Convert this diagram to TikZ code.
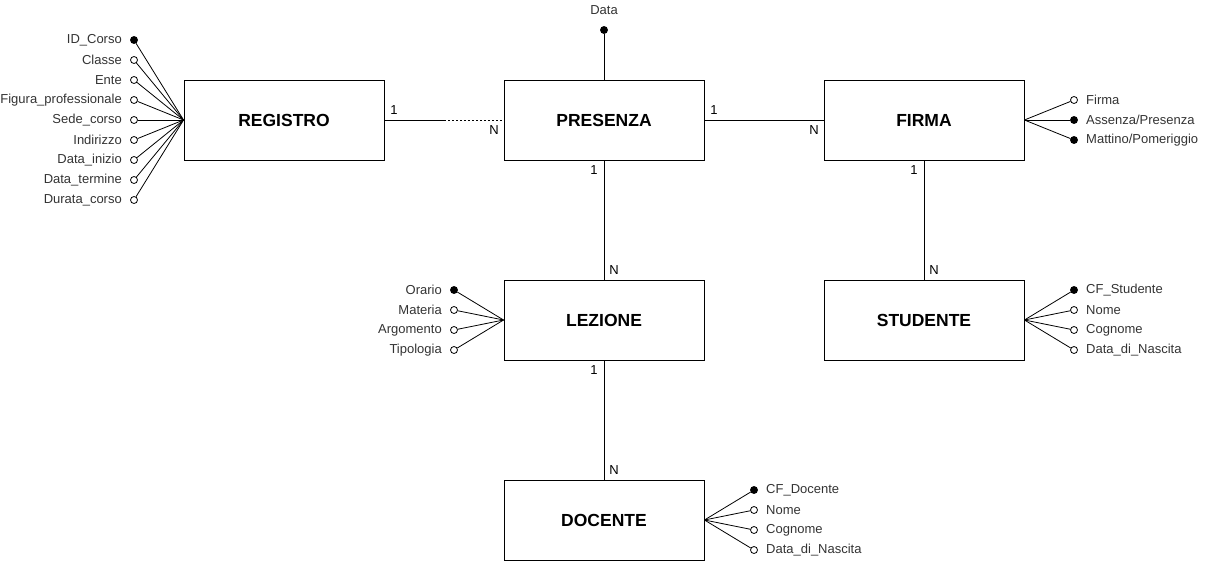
\documentclass[tikz,border=0pt]{standalone}
\usepackage{fontspec}
\setmainfont{Liberation Sans}
\begin{document}
\begin{tikzpicture}[x=1pt,y=-1pt,
  entity/.style={draw,line width=0.9pt,minimum width=200pt,minimum height=80pt,inner sep=0pt,font=\fontsize{17.5}{20}\selectfont\bfseries},
  attrk/.style={circle,draw,line width=0.8pt,fill=black,minimum size=7pt,inner sep=0pt},
  attro/.style={circle,draw,line width=0.8pt,fill=white,minimum size=7pt,inner sep=0pt},
  lbl/.style={font=\fontsize{13}{15}\selectfont,text=black!80,inner sep=0pt},
  card/.style={font=\fontsize{13}{15}\selectfont,inner sep=0pt},
  conn/.style={line width=0.8pt}]
\useasboundingbox (0,0) rectangle (1205,562);
% entities
\node[entity] (reg) at (284,120) {REGISTRO};
\node[entity] (pre) at (604,120) {PRESENZA};
\node[entity] (fir) at (924,120) {FIRMA};
\node[entity] (lez) at (604,320) {LEZIONE};
\node[entity] (stu) at (924,320) {STUDENTE};
\node[entity] (doc) at (604,520) {DOCENTE};
% relationships
\coordinate (mid) at (444,120);
\draw[conn] (reg.east) -- (mid);
\draw[conn,dash pattern=on 2pt off 2pt] (mid) -- (pre.west);
\draw[conn] (pre.east) -- (fir.west);
\draw[conn] (pre.south) -- (lez.north);
\draw[conn] (fir.south) -- (stu.north);
\draw[conn] (lez.south) -- (doc.north);
\node[card] (c1) at (394,110) {1};
\node[card] (c2) at (494,130) {N};
\node[card] (c3) at (714,110) {1};
\node[card] (c4) at (814,130) {N};
\node[card] (c5) at (594,170) {1};
\node[card] (c6) at (614,270) {N};
\node[card] (c7) at (914,170) {1};
\node[card] (c8) at (934,270) {N};
\node[card] (c9) at (594,370) {1};
\node[card] (c10) at (614,470) {N};
% Data
\node[attrk] (dat) at (604,30) {};
\node[lbl] (datl) at (604,10) {Data};
\draw[conn] (dat) -- (pre.north);
% registro attributes
\foreach \n/\t/\s [count=\i from 0] in {r0/ID\_Corso/attrk,r1/Classe/attro,r2/Ente/attro,r3/Figura\_professionale/attro,r4/Sede\_corso/attro,r5/Indirizzo/attro,r6/Data\_inizio/attro,r7/Data\_termine/attro,r8/Durata\_corso/attro}{
  \node[\s] (\n) at (134,40+20*\i) {};
  \node[lbl,anchor=east] (\n l) at (122,40+20*\i) {\t};
  \draw[conn] (\n) -- (reg.west);
}
% firma attributes
\foreach \n/\t/\s [count=\i from 0] in {f0/Firma/attro,f1/Assenza\slash Presenza/attrk,f2/Mattino\slash Pomeriggio/attrk}{
  \node[\s] (\n) at (1074,100+20*\i) {};
  \node[lbl,anchor=west] (\n l) at (1086,100+20*\i) {\t};
  \draw[conn] (\n) -- (fir.east);
}
% lezione attributes
\foreach \n/\t/\s [count=\i from 0] in {l0/Orario/attrk,l1/Materia/attro,l2/Argomento/attro,l3/Tipologia/attro}{
  \node[\s] (\n) at (454,290+20*\i) {};
  \node[lbl,anchor=east] (\n l) at (442,290+20*\i) {\t};
  \draw[conn] (\n) -- (lez.west);
}
% studente attributes
\foreach \n/\t/\s [count=\i from 0] in {s0/CF\_Studente/attrk,s1/Nome/attro,s2/Cognome/attro,s3/Data\_di\_Nascita/attro}{
  \node[\s] (\n) at (1074,290+20*\i) {};
  \node[lbl,anchor=west] (\n l) at (1086,290+20*\i) {\t};
  \draw[conn] (\n) -- (stu.east);
}
% docente attributes
\foreach \n/\t/\s [count=\i from 0] in {d0/CF\_Docente/attrk,d1/Nome/attro,d2/Cognome/attro,d3/Data\_di\_Nascita/attro}{
  \node[\s] (\n) at (754,490+20*\i) {};
  \node[lbl,anchor=west] (\n l) at (766,490+20*\i) {\t};
  \draw[conn] (\n) -- (doc.east);
}
\end{tikzpicture}
\end{document}
